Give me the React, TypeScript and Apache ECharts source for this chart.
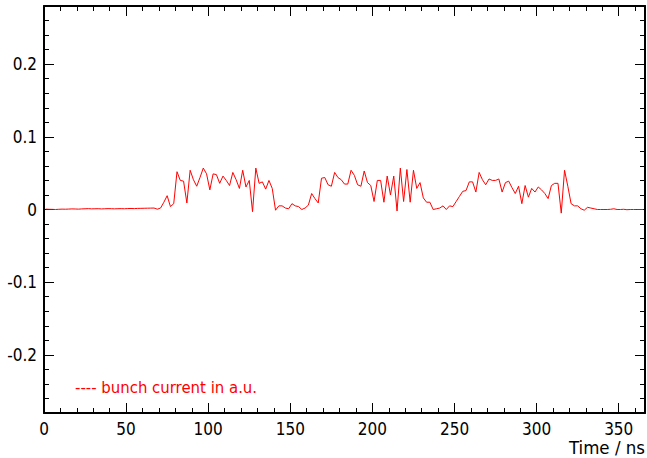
import React, { useEffect, useRef } from "react";
import * as echarts from "echarts";

// Sampling grid of the recorded trace (ns)
const SAMPLE_START = 1;
const SAMPLE_STEP = 2;

// bunch current in a.u., segment by segment (1 .. 365 ns)
const currentBefore = [
  0.0005, 0.0003, 0.0002, 0.0, 0.0003, 0.0005, 0.0004, 0.0006, 0.0008, 0.0007,
  0.0005, 0.0008, 0.001, 0.0012, 0.0009, 0.001, 0.0011, 0.0008, 0.001, 0.0012,
  0.0011, 0.0009, 0.0011, 0.0012, 0.001, 0.0013, 0.0014, 0.0012, 0.0015, 0.0016,
  0.0017, 0.0018, 0.0019, 0.002, 0.0004,
];
const currentTrain1 = [
  0.002, 0.01, 0.019, 0.004, 0.008, 0.052, 0.04, 0.039, 0.009, 0.054,
  0.041, 0.032, 0.044, 0.057, 0.049, 0.027, 0.049, 0.048, 0.036, 0.046,
  0.04, 0.033, 0.051, 0.041, 0.029, 0.054, 0.031, 0.04, -0.003, 0.057,
  0.036, 0.038, 0.028, 0.04, 0.029,
];
const currentGap1 = [
  -0.001, 0.005, 0.005, 0.002, 0.001, 0.008, 0.005, 0.004, 0.0, 0.002,
  0.006, 0.022, 0.015, 0.009,
];
const currentTrain2 = [
  0.043, 0.044, 0.034, 0.032, 0.051, 0.044, 0.041, 0.035, 0.035, 0.054,
  0.047, 0.034, 0.032, 0.053, 0.037, 0.033, 0.011, 0.04, 0.04, 0.01,
  0.046, 0.02, 0.046, -0.002, 0.057, 0.011, 0.055, 0.01, 0.054, 0.029,
  0.037, 0.016, 0.01, 0.01,
];
const currentGap2 = [
  0.0, 0.001, 0.002, 0.005, 0.0, 0.005, 0.004, 0.011, 0.018, 0.025,
  0.026,
];
const currentTrain3 = [
  0.038, 0.038, 0.024, 0.051, 0.041, 0.034, 0.042, 0.04, 0.04, 0.042,
  0.024, 0.037, 0.039, 0.03, 0.022, 0.032, 0.008, 0.033, 0.017, 0.029,
  0.024, 0.031, 0.027, 0.022, 0.015, 0.033, 0.036, 0.036, -0.005, 0.054,
  0.032,
];
const currentAfter = [
  0.008, 0.005, 0.005, 0.001, -0.001, 0.003, 0.002, 0.001, 0.0, 0.0,
  0.0, 0.0, 0.0003, 0.001, 0.0, 0.0, 0.0003, -0.0003, 0.0, 0.0,
  0.0, 0.0, 0.0,
];

const xMajorTicks = [0, 50, 100, 150, 200, 250, 300, 350];
const yMajorTicks = [-0.2, -0.1, 0, 0.1, 0.2];

const SERIES_NAME = "bunch current in a.u.";
const X_TITLE = "Time / ns";

const FONT = "'DejaVu Sans Condensed', 'DejaVu Sans', sans-serif";

export default function App() {
  const ref = useRef<HTMLDivElement>(null);

  useEffect(() => {
    if (!ref.current) return;
    const chart = echarts.init(ref.current, undefined, { renderer: "svg" });

    const values = [
      ...currentBefore,
      ...currentTrain1,
      ...currentGap1,
      ...currentTrain2,
      ...currentGap2,
      ...currentTrain3,
      ...currentAfter,
    ];
    const data = values.map((v, i) => [SAMPLE_START + i * SAMPLE_STEP, v]);

    const X_MIN = 0, X_MAX = 366;
    const Y_MIN = -0.28, Y_MAX = 0.28;
    const black = "#000";

    const xBase = (pos: "bottom" | "top", major: boolean, labels: boolean) => ({
      type: "value",
      position: pos,
      min: X_MIN,
      max: X_MAX,
      interval: major ? 50 : 10,
      axisLine: { show: !major, onZero: false, lineStyle: { color: black, width: 2 } },
      axisTick: major
        ? { show: true, inside: true, length: 10, customValues: xMajorTicks, lineStyle: { color: black, width: 1 } }
        : { show: true, inside: true, length: 5, lineStyle: { color: black, width: 1 } },
      axisLabel: labels
        ? {
            show: true,
            customValues: xMajorTicks,
            margin: 7,
            color: black,
            fontSize: 17,
            fontFamily: FONT,
            formatter: (v: number) => String(v),
          }
        : { show: false },
      splitLine: { show: false },
    });

    const yBase = (pos: "left" | "right", major: boolean, labels: boolean) => ({
      type: "value",
      position: pos,
      min: Y_MIN,
      max: Y_MAX,
      interval: 0.02,
      axisLine: { show: !major, onZero: false, lineStyle: { color: black, width: 2 } },
      axisTick: major
        ? { show: true, inside: true, length: 10, customValues: yMajorTicks, lineStyle: { color: black, width: 1 } }
        : { show: true, inside: true, length: 5, lineStyle: { color: black, width: 1 } },
      axisLabel: labels
        ? {
            show: true,
            customValues: yMajorTicks,
            margin: 7,
            color: black,
            fontSize: 17,
            fontFamily: FONT,
            formatter: (v: number) => {
              const r = Math.round(v * 10) / 10;
              return Math.abs(r) < 1e-9 ? "0" : String(r);
            },
          }
        : { show: false },
      splitLine: { show: false },
    });

    chart.setOption({
      animation: false,
      backgroundColor: "#fff",
      grid: { left: 44, right: 2, top: 6, bottom: 45, containLabel: false },
      xAxis: [
        xBase("bottom", false, true),
        xBase("top", false, false),
        xBase("bottom", true, false),
        xBase("top", true, false),
      ],
      yAxis: [
        yBase("left", false, true),
        yBase("right", false, false),
        yBase("left", true, false),
        yBase("right", true, false),
      ],
      legend: {
        left: 70,
        top: 379,
        icon: "none",
        itemWidth: 0,
        itemGap: 0,
        padding: 0,
        data: [SERIES_NAME],
        formatter: (name: string) => "---- " + name,
        textStyle: { color: "#ff0000", fontSize: 16.6, fontFamily: FONT },
        selectedMode: false,
      },
      graphic: [
        {
          type: "text",
          right: 2,
          top: 438,
          style: {
            text: X_TITLE,
            fill: black,
            fontSize: 18.5,
            fontFamily: FONT,
          },
        },
      ],
      series: [
        {
          name: SERIES_NAME,
          type: "line",
          xAxisIndex: 0,
          yAxisIndex: 0,
          data,
          showSymbol: false,
          symbol: "none",
          lineStyle: { color: "#ff0000", width: 1 },
          itemStyle: { color: "#ff0000" },
          clip: true,
        },
      ],
    });

    return () => chart.dispose();
  }, []);

  return (
    <div
      ref={ref}
      style={{ position: "fixed", left: 0, top: 0, width: 647, height: 458, background: "#fff" }}
    />
  );
}
